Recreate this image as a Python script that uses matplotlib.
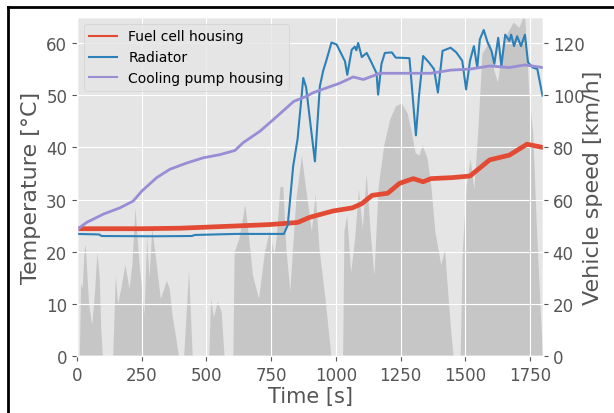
import matplotlib
matplotlib.use("Agg")
import matplotlib.pyplot as plt
from matplotlib.lines import Line2D

plt.style.use("ggplot")

# Vehicle speed profile [km/h]
speed_t = [0, 9, 14, 20, 27, 32, 38, 45, 57, 68, 77, 86, 92, 98,
           138, 148, 157, 171, 185, 201, 212, 224, 239, 259, 269, 278, 289, 304, 322, 345, 356, 368, 380, 392,
           412, 431, 445,
           466, 509, 516, 527, 542, 557, 568,
           602, 607, 625, 648, 658, 678, 701, 724, 743, 761, 769, 784, 795, 807, 822, 845, 867, 882, 905, 920,
           935, 958, 981,
           1026, 1031, 1042, 1057, 1072, 1087, 1102, 1117, 1132, 1147, 1163, 1185, 1208, 1231, 1253, 1276, 1291,
           1306, 1321, 1333, 1352, 1367, 1382, 1405, 1420, 1427, 1443, 1453,
           1480, 1488, 1503, 1518, 1533, 1549, 1564, 1594, 1609, 1624, 1639, 1662, 1685, 1707, 1723, 1730, 1745,
           1760, 1775, 1790, 1798]
speed_v = [0, 0, 28, 26, 40, 43, 32, 20, 12, 25, 40, 30, 10, 0,
           0, 31, 20, 27, 35, 26, 35, 57, 36, 16, 46, 30, 49, 37, 22, 29, 26, 15, 8, 0,
           0, 33, 0,
           0, 0, 22, 15, 21, 17, 0,
           0, 40, 45, 58, 50, 31, 22, 40, 48, 39, 45, 65, 65, 41, 25, 60, 77, 65, 48, 62,
           41, 22, 0,
           0, 48, 54, 32, 45, 64, 49, 70, 48, 31, 65, 81, 91, 96, 97, 93, 86,
           78, 77, 81, 76, 65, 48, 35, 41, 31, 10, 0,
           0, 40, 65, 76, 64, 88, 116, 121, 110, 105, 116, 124, 128, 126, 130, 129, 101,
           86, 48, 16, 0]

# Fuel cell housing temperature [°C]
fc_t = [0, 100, 250, 400, 500, 600, 700, 745, 800, 852, 900, 989, 1064, 1100, 1140, 1200, 1246, 1299, 1337,
        1367, 1450, 1518, 1594, 1670, 1738, 1798]
fc_T = [24.4, 24.4, 24.4, 24.5, 24.7, 24.9, 25.1, 25.2, 25.4, 25.6, 26.6, 27.8, 28.4, 29.2, 30.8, 31.2, 33.1,
        34.0, 33.4, 34.0, 34.2, 34.5, 37.6, 38.5, 40.6, 40.0]

# Radiator temperature [°C]
rad_t = [0, 85, 95, 292, 443, 455, 610, 799, 814, 835, 852, 874, 885, 898, 919, 938, 951, 964, 983, 1003,
         1035, 1044, 1061, 1073, 1079, 1086, 1100, 1119, 1138, 1157, 1163, 1176, 1189, 1216, 1231, 1284,
         1291, 1309, 1321, 1337, 1359, 1379, 1394, 1412, 1443, 1465, 1488, 1503, 1518, 1533, 1546, 1556,
         1571, 1586, 1601, 1612, 1627, 1639, 1654, 1670, 1677, 1688, 1700, 1715, 1730, 1742, 1760, 1778,
         1798]
rad_T = [23.4, 23.3, 23.0, 22.95, 23.0, 23.2, 23.4, 23.4, 25.1, 36.4, 41.6, 53.3, 51.5, 46.0, 37.3, 51.7,
         54.7, 56.8, 60.1, 59.7, 56.5, 53.9, 58.7, 59.3, 58.6, 60.0, 57.3, 58.1, 56.2, 54.2, 50.1, 56.0,
         58.1, 58.2, 57.2, 57.1, 53.1, 42.3, 49.9, 57.5, 56.3, 55.0, 50.5, 58.5, 59.1, 58.2, 56.6, 51.1,
         56.6, 59.4, 55.3, 60.7, 62.5, 60.1, 58.5, 56.0, 61.0, 55.6, 61.6, 60.4, 61.6, 59.4, 61.3, 59.4,
         61.6, 56.3, 55.3, 55.0, 49.9]

# Cooling pump housing temperature [°C]
cp_t = [0, 10, 37, 102, 166, 217, 250, 308, 359, 424, 488, 552, 610, 642, 707, 758, 837, 887, 913, 1015,
        1067, 1106, 1170, 1216, 1367, 1443, 1518, 1594, 1670, 1730, 1798]
cp_T = [24.0, 24.6, 25.6, 27.2, 28.4, 29.7, 31.6, 34.2, 35.8, 37.0, 38.0, 38.6, 39.4, 40.9, 43.1, 45.3,
        48.8, 49.8, 50.5, 52.3, 53.5, 53.0, 54.2, 54.2, 54.2, 54.8, 55.0, 55.6, 55.3, 55.8, 55.3]

fig = plt.figure(figsize=(6.14, 4.14), dpi=100)
ax = fig.add_axes([0.1254, 0.1377, 0.759, 0.819])
ax2 = ax.twinx()

ax2.fill_between(speed_t, speed_v, color="gray", alpha=0.3, linewidth=0)
ax2.set_ylim(0, 130)
ax2.set_yticks([0, 20, 40, 60, 80, 100, 120])
ax2.grid(False)
ax2.set_ylabel("Vehicle speed [km/h]", fontsize=16, color="#555555", labelpad=-1)
ax2.tick_params(axis="y", labelsize=12, colors="#555555")

ax.plot(fc_t, fc_T, color="#E24A33", lw=3.4, label="Fuel cell housing")
ax.plot(rad_t, rad_T, color="#2C80B8", lw=1.5, label="Radiator")
ax.plot(cp_t, cp_T, color="#988ED5", lw=2.0, label="Cooling pump housing")
ax.set_xlim(0, 1800)
ax.set_ylim(0, 65)
ax.set_xticks([0, 250, 500, 750, 1000, 1250, 1500, 1750])
ax.set_yticks([0, 10, 20, 30, 40, 50, 60])
ax.set_xlabel("Time [s]", fontsize=15, color="#555555", labelpad=2)
ax.set_ylabel("Temperature [°C]", fontsize=16, color="#555555")
ax.tick_params(labelsize=12, colors="#555555")
leg = ax.legend(loc="upper left", fontsize=10)
for handle in leg.get_lines():
    handle.set_linewidth(1.5)

# Put the temperature axes on top so the curves stay in front of the speed area
ax.set_zorder(ax2.get_zorder() + 1)
ax.patch.set_visible(False)
ax2.patch.set_visible(True)
ax2.patch.set_facecolor("#E5E5E5")

# Outer frame
fig.add_artist(Line2D([0.013, 0.013], [0.0, 0.981], transform=fig.transFigure, color="black", lw=2))
fig.add_artist(Line2D([0.013, 1.0], [0.981, 0.981], transform=fig.transFigure, color="black", lw=2))

fig.savefig("out.png", dpi=100)
